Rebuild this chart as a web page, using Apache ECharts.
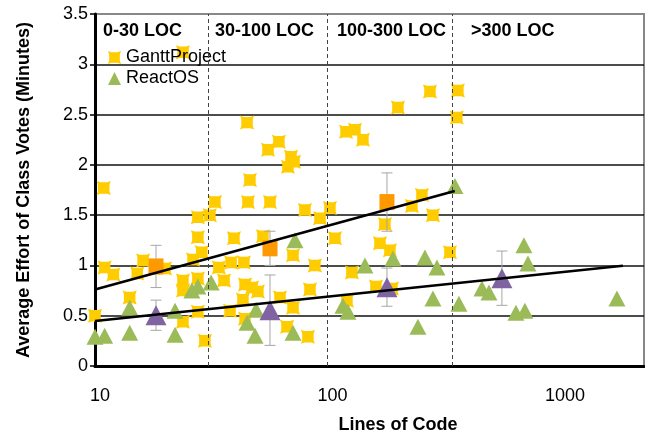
<!DOCTYPE html>
<html><head><meta charset="utf-8">
<script src="https://cdn.jsdelivr.net/npm/echarts@6/dist/echarts.min.js"></script>
<style>html,body{margin:0;padding:0;background:#fff}#c{width:645px;height:434px}</style>
</head><body><div id="c"></div>
<script>
// ---- data ----
const ganttLOC = [23.9,10.9,45.1,61.8,55.5,69.7,71.8,67.6,46.4,32.8,45.5,56.6,27.7,31.2,27.7,39.6,52.8,80.0,92.9,102.5,107.7,71.1,11.0,12.0,16.1,15.2,20.0,26.4,28.8,34.1,38.5,43.7,88.3,127.4,23.9,23.9,27.7,35.9,44.2,47.4,50.2,84.1,14.1,62.5,43.3,71.1,38.1,27.7,10.0,23.9,44.2,67.0,82.4,29.7,276,364,201,360,120.2,131.3,142.1,176.7,254.9,230.9,284.3,168.2,185.7,336.5,161.7,189.4,121.3];
const ganttEffort = [3.12,1.77,2.42,2.23,2.15,2.08,2.03,1.98,1.85,1.63,1.63,1.63,1.48,1.50,1.28,1.27,1.29,1.55,1.47,1.57,1.27,1.10,0.98,0.91,1.05,0.92,0.97,1.06,1.13,0.98,1.03,1.03,1.00,0.93,0.85,0.75,0.87,0.85,0.81,0.78,0.74,0.76,0.68,0.68,0.66,0.58,0.55,0.54,0.50,0.44,0.47,0.39,0.29,0.25,2.73,2.74,2.57,2.47,2.33,2.35,2.25,1.41,1.70,1.59,1.50,1.22,1.15,1.13,0.79,0.77,0.65];
const reactLOC = [10,11.0,14.1,14.1,22.1,22.1,26.1,27.7,31.6,49.3,45.1,48.8,71.1,72.5,145.0,116.6,122.5,191.3,262.6,295.8,284.3,245.0,367.8,353.5,461.9,495.0,700,728.6,647,706.7,1759];
const reactEffort = [0.29,0.30,0.58,0.33,0.55,0.31,0.75,0.79,0.83,0.56,0.43,0.30,0.33,1.25,1.00,0.60,0.54,1.07,1.08,0.98,0.67,0.39,0.62,1.79,0.77,0.73,1.20,1.02,0.53,0.55,0.67];
const ganttBinLOC = [18.3,56.6,180.3];
const ganttMean = [0.99,1.17,1.63];
const ganttErr = [0.21,0.17,0.29];
const reactBinLOC = [18.3,56.6,180.3,563];
const reactMean = [0.505,0.555,0.784,0.873];
const reactErr = [0.15,0.35,0.19,0.27];
const ganttTrendLOC = [10,353];
const ganttTrend = [0.761,1.74];
const reactTrendLOC = [10,1866];
const reactTrend = [0.448,0.996];
const boundaryLOC = [30.6,99.5,343];
const regionLabels = ['0-30 LOC','30-100 LOC','100-300 LOC','>300 LOC'];
const xTickLabels = [10,100,1000];
const seriesNames = ['GanttProject','ReactOS'];

// ---- styling ----
const FONT = 'Liberation Sans, Arial, sans-serif';
const YELLOW = '#FFCC00', GREEN = '#9BBB59', PURPLE = '#8064A2', ORANGE = '#FF9900';
const GANTT_SYMBOL = 'path://M0,0 L2.6,0.9 L7.4,0.9 L10,0 L9.1,2.6 L9.1,7.4 L10,10 L7.4,9.1 L2.6,9.1 L0,10 L0.9,7.4 L0.9,2.6 Z';

const zip = (a,b) => a.map((v,i)=>[v,b[i]]);

function errorBars(xs, ys, es) {
  return {
    type:'custom', silent:true, z:3,
    data: xs.map((x,i)=>[x, ys[i]-es[i], ys[i]+es[i]]),
    encode:{x:0, y:[1,2]},
    renderItem(params, api) {
      const lo = api.coord([api.value(0), api.value(1)]);
      const hi = api.coord([api.value(0), api.value(2)]);
      const w = 5.5;
      const style = {stroke:'#A6A6A6', lineWidth:1, fill:null};
      return {type:'group', children:[
        {type:'line', shape:{x1:lo[0],y1:lo[1],x2:hi[0],y2:hi[1]}, style},
        {type:'line', shape:{x1:lo[0]-w,y1:lo[1],x2:lo[0]+w,y2:lo[1]}, style},
        {type:'line', shape:{x1:hi[0]-w,y1:hi[1],x2:hi[0]+w,y2:hi[1]}, style}
      ]};
    }
  };
}

const chart = echarts.init(document.getElementById('c'), null, {renderer:'canvas'});
chart.setOption({
  animation:false,
  backgroundColor:'#fff',
  textStyle:{fontFamily:FONT},
  grid:{left:95, top:14, right:1, bottom:68, containLabel:false, outerBoundsMode:'none',
        show:true, borderColor:'#888', borderWidth:2, backgroundColor:'transparent'},
  legend:{
    orient:'vertical', left:103, top:42, itemGap:0, itemWidth:13, itemHeight:13,
    textStyle:{fontSize:18, fontFamily:FONT, color:'#000', lineHeight:21},
    data:[{name:seriesNames[0], icon:GANTT_SYMBOL}, {name:seriesNames[1], icon:'triangle'}]
  },
  xAxis:{
    type:'log', logBase:10, min:10, max:2300,
    name:'Lines of Code', nameLocation:'middle', nameGap:50,
    nameTextStyle:{fontSize:18, fontWeight:'bold', color:'#000', fontFamily:FONT, padding:[0,0,0,57]},
    axisLine:{show:true, onZero:false, lineStyle:{color:'#000', width:3}},
    axisTick:{show:false}, splitLine:{show:false}, minorTick:{show:false},
    axisLabel:{fontSize:18, color:'#000', fontFamily:FONT, margin:21, padding:[0,0,0,10],
      formatter: v => { const r = Math.round(v); return xTickLabels.includes(r) ? String(r) : ''; }}
  },
  yAxis:{
    type:'value', min:0, max:3.5, interval:0.5,
    name:'Average Effort of Class Votes (Minutes)', nameLocation:'middle', nameGap:62,
    nameTextStyle:{fontSize:18, fontWeight:'bold', color:'#000', fontFamily:FONT},
    axisLine:{show:true, lineStyle:{color:'#000', width:3}},
    axisTick:{show:true, length:5, lineStyle:{color:'#000', width:1.5}},
    axisLabel:{fontSize:18, color:'#000', fontFamily:FONT, margin:7},
    splitLine:{show:true, showMaxLine:false, lineStyle:{color:'#111', width:1.5}}
  },
  graphic: regionLabels.map((t,i)=>({
    type:'text', left:[103,215,337,471][i], top:22, z:10,
    style:{text:t, font:'bold 18px '+FONT, fill:'#000'}
  })),
  series:[
    {name:seriesNames[0], type:'scatter', data:zip(ganttLOC, ganttEffort), symbol:GANTT_SYMBOL, symbolSize:14,
     itemStyle:{color:YELLOW, opacity:1}, z:2},
    {name:seriesNames[1], type:'scatter', data:zip(reactLOC, reactEffort), symbol:'triangle', symbolSize:[17,16],
     itemStyle:{color:GREEN, opacity:1}, z:2},
    errorBars(ganttBinLOC, ganttMean, ganttErr),
    errorBars(reactBinLOC, reactMean, reactErr),
    {name:'Gantt mean', type:'scatter', data:zip(ganttBinLOC, ganttMean), symbol:'rect', symbolSize:[15,16],
     itemStyle:{color:ORANGE, opacity:1}, z:4},
    {name:'ReactOS mean', type:'scatter', data:zip(reactBinLOC, reactMean), symbol:'triangle', symbolSize:[21,20],
     itemStyle:{color:PURPLE, opacity:1}, z:4},
    {name:'Gantt trend', type:'line', data:zip(ganttTrendLOC, ganttTrend), showSymbol:false, symbol:'none',
     lineStyle:{color:'#000', width:2.5}, z:5,
     markLine:{silent:true, symbol:'none', label:{show:false},
       lineStyle:{color:'#444', width:1, type:[4,3]},
       data: boundaryLOC.map(v=>({xAxis:v}))}},
    {name:'ReactOS trend', type:'line', data:zip(reactTrendLOC, reactTrend), showSymbol:false, symbol:'none',
     lineStyle:{color:'#000', width:2.5}, z:5}
  ]
});
</script></body></html>
